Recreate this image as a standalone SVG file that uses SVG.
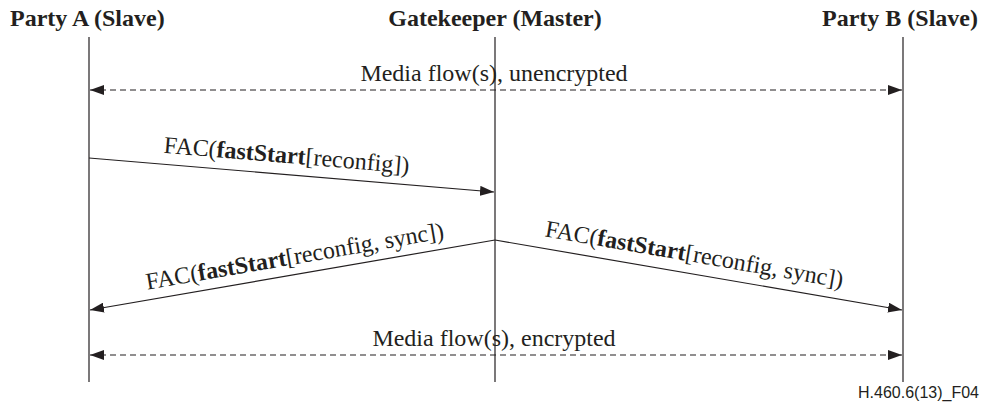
<svg xmlns="http://www.w3.org/2000/svg" width="983" height="402" viewBox="0 0 983 402">
<style>
.t{font-family:"Liberation Serif","Times New Roman",serif;font-size:24px;fill:#231f20}
.h{font-weight:bold}
.l{stroke:#231f20;stroke-width:1.2;fill:none}
.d{stroke:#231f20;stroke-width:1.2;fill:none;stroke-dasharray:6 4}
.f{font-family:"Liberation Sans",Arial,sans-serif;font-size:16px;fill:#231f20}
</style>
<defs>
<marker id="ah" viewBox="0 0 14 10" refX="14" refY="5" markerWidth="14" markerHeight="10" markerUnits="userSpaceOnUse" orient="auto-start-reverse">
<path d="M0,0 L14,5 L0,10 Z" fill="#231f20"/>
</marker>
</defs>
<g id="partyA">
<text class="t h" x="10" y="26">Party A (Slave)</text>
<line class="l" x1="89" y1="37" x2="89" y2="382"/>
</g>
<g id="gatekeeper">
<text class="t h" x="495" y="26" text-anchor="middle">Gatekeeper (Master)</text>
<line class="l" x1="495" y1="37" x2="495" y2="382"/>
</g>
<g id="partyB">
<text class="t h" x="978" y="26" text-anchor="end">Party B (Slave)</text>
<line class="l" x1="903" y1="37" x2="903" y2="382"/>
</g>
<g id="connectors">
<line class="d" x1="90" y1="90" x2="902" y2="90" marker-start="url(#ah)" marker-end="url(#ah)"/>
<text class="t" x="494" y="81" text-anchor="middle">Media flow(s), unencrypted</text>
<line class="l" x1="89" y1="158" x2="494" y2="192" marker-end="url(#ah)"/>
<text class="t" x="286" y="163" text-anchor="middle" transform="rotate(4.8 286 163)">FAC(<tspan class="h">fastStart</tspan>[reconfig])</text>
<line class="l" x1="495" y1="240" x2="90" y2="310" marker-end="url(#ah)"/>
<text class="t" x="296" y="264" text-anchor="middle" transform="rotate(-9.8 296 264)">FAC(<tspan class="h">fastStart</tspan>[reconfig, sync])</text>
<line class="l" x1="495" y1="240" x2="902" y2="310" marker-end="url(#ah)"/>
<text class="t" x="693" y="262" text-anchor="middle" transform="rotate(9.8 693 262)">FAC(<tspan class="h">fastStart</tspan>[reconfig, sync])</text>
<line class="d" x1="90" y1="355" x2="902" y2="355" marker-start="url(#ah)" marker-end="url(#ah)"/>
<text class="t" x="494" y="346" text-anchor="middle">Media flow(s), encrypted</text>
</g>
<text class="f" x="979" y="398" text-anchor="end">H.460.6(13)_F04</text>
</svg>
